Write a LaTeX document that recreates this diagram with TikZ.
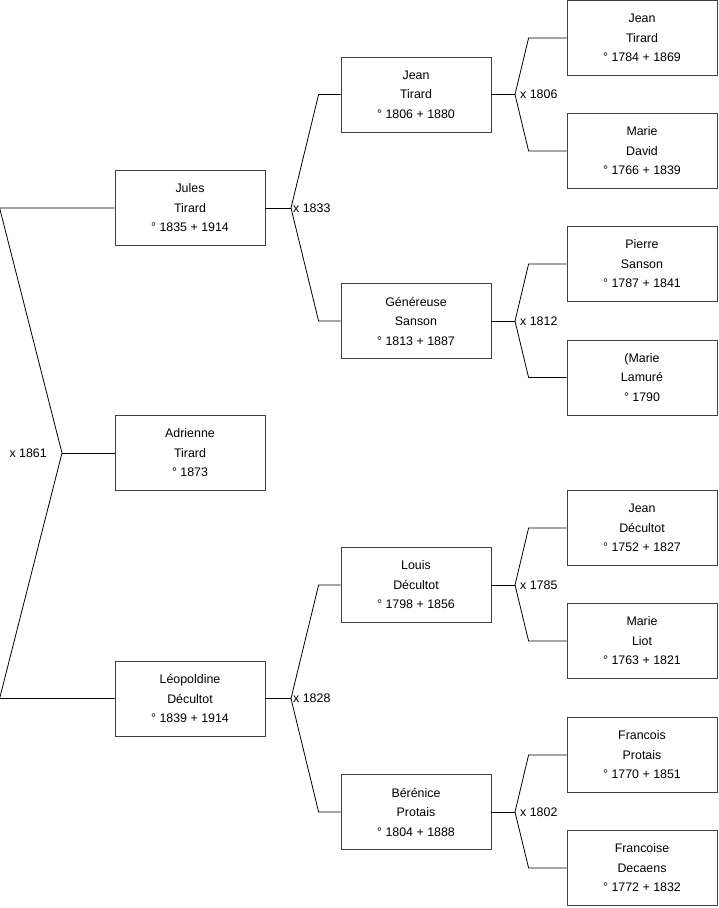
\documentclass[tikz,border=0pt]{standalone}
\usepackage{fontspec}
\setmainfont{Liberation Sans}
\usetikzlibrary{positioning}

\begin{document}
\begin{tikzpicture}[x=1pt,y=-1pt,
    box/.style={draw=black!75,line width=0.8pt,minimum width=150pt,minimum height=75pt,
                align=center,inner sep=0pt,font=\fontsize{12.4}{19.5}\selectfont},
    link/.style={black,line width=0.8pt},
    lbl/.style={font=\fontsize{12.4}{14}\selectfont,inner sep=1pt}
]
  \useasboundingbox (0,0) rectangle (719,908);

  % Generation 1
  \node[box] (jules) at (190,208) {Jules\\Tirard\\° 1835 + 1914};
  \node[box] (adrienne) at (190,453) {Adrienne\\Tirard\\° 1873};
  \node[box] (leopoldine) at (190,698.5) {Léopoldine\\Décultot\\° 1839 + 1914};

  % Generation 2
  \node[box] (jeanT) at (416,94.5) {Jean\\Tirard\\° 1806 + 1880};
  \node[box] (genereuse) at (416,321) {Généreuse\\Sanson\\° 1813 + 1887};
  \node[box] (louis) at (416,585) {Louis\\Décultot\\° 1798 + 1856};
  \node[box] (berenice) at (416,812) {Bérénice\\Protais\\° 1804 + 1888};

  % Generation 3
  \node[box] (jeanTT) at (642,38) {Jean\\Tirard\\° 1784 + 1869};
  \node[box] (marieD) at (642,151) {Marie\\David\\° 1766 + 1839};
  \node[box] (pierreS) at (642,264) {Pierre\\Sanson\\° 1787 + 1841};
  \node[box] (marieL) at (642,377.5) {(Marie\\Lamuré\\° 1790};
  \node[box] (jeanD) at (642,528) {Jean\\Décultot\\° 1752 + 1827};
  \node[box] (marieLi) at (642,641) {Marie\\Liot\\° 1763 + 1821};
  \node[box] (francois) at (642,755) {Francois\\Protais\\° 1770 + 1851};
  \node[box] (francoise) at (642,868) {Francoise\\Decaens\\° 1772 + 1832};

  % Marriage points
  \coordinate (m1861) at (62,453);
  \coordinate (m1833) at (291,208);
  \coordinate (m1828) at (291,698.5);
  \coordinate (m1806) at (515,94.5);
  \coordinate (m1812) at (515,321);
  \coordinate (m1785) at (515,585);
  \coordinate (m1802) at (515,812);

  % Connectors
  \draw[link] (jules.west) -- ([xshift=-115pt]jules.west) -- (m1861)
              -- ([xshift=-115pt]leopoldine.west) -- (leopoldine.west);
  \draw[link] (m1861) -- (adrienne.west);
  \node[lbl,left=14pt] (w1861) at (m1861) {x 1861};

  \draw[link] (jules.east) -- (m1833);
  \draw[link] (jeanT.west) -- ([xshift=-22pt]jeanT.west) -- (m1833)
              -- ([xshift=-22pt]genereuse.west) -- (genereuse.west);
  \node[lbl,right=1pt] (w1833) at (m1833) {x 1833};

  \draw[link] (leopoldine.east) -- (m1828);
  \draw[link] (louis.west) -- ([xshift=-22pt]louis.west) -- (m1828)
              -- ([xshift=-22pt]berenice.west) -- (berenice.west);
  \node[lbl,right=1pt] (w1828) at (m1828) {x 1828};

  \draw[link] (jeanT.east) -- (m1806);
  \draw[link] (jeanTT.west) -- ([xshift=-38pt]jeanTT.west) -- (m1806)
              -- ([xshift=-38pt]marieD.west) -- (marieD.west);
  \node[lbl,right=4pt] (w1806) at (m1806) {x 1806};

  \draw[link] (genereuse.east) -- (m1812);
  \draw[link] (pierreS.west) -- ([xshift=-38pt]pierreS.west) -- (m1812)
              -- ([xshift=-38pt]marieL.west) -- (marieL.west);
  \node[lbl,right=4pt] (w1812) at (m1812) {x 1812};

  \draw[link] (louis.east) -- (m1785);
  \draw[link] (jeanD.west) -- ([xshift=-38pt]jeanD.west) -- (m1785)
              -- ([xshift=-38pt]marieLi.west) -- (marieLi.west);
  \node[lbl,right=4pt] (w1785) at (m1785) {x 1785};

  \draw[link] (berenice.east) -- (m1802);
  \draw[link] (francois.west) -- ([xshift=-38pt]francois.west) -- (m1802)
              -- ([xshift=-38pt]francoise.west) -- (francoise.west);
  \node[lbl,right=4pt] (w1802) at (m1802) {x 1802};
\end{tikzpicture}
\end{document}
